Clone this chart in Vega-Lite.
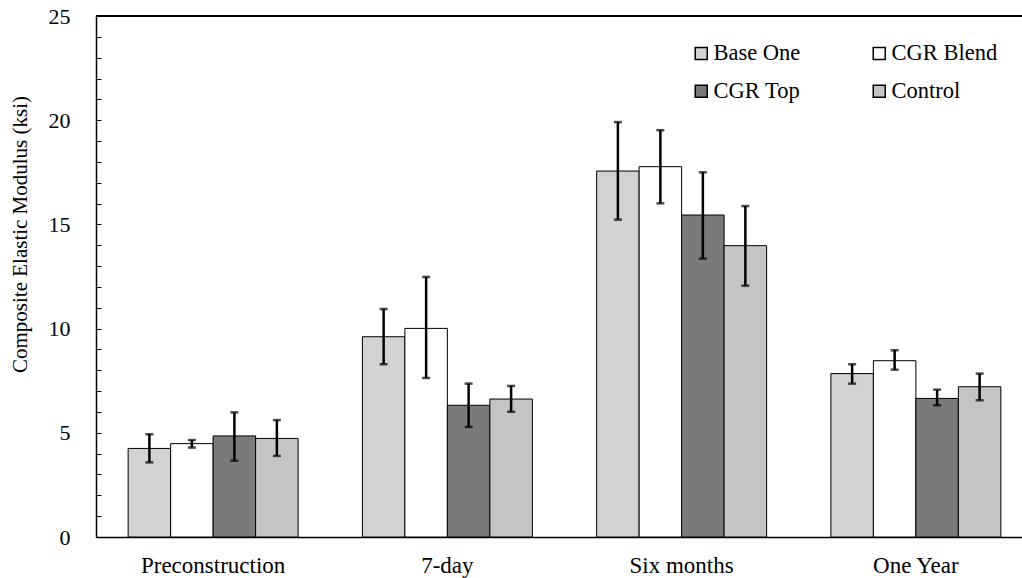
{
  "$schema": "https://vega.github.io/schema/vega-lite/v6.json",
  "width": 926,
  "height": 521,
  "autosize": "none",
  "padding": {"left": 96, "top": 16, "right": 0, "bottom": 41},
  "background": "white",
  "config": {"view": {"stroke": null}, "font": "Liberation Serif", "axis": {"labelOverlap": false, "labelFlush": false}},
  "data": {
    "values": [
      {"period": "Preconstruction", "mix": "Base One", "mean": 4.25, "lo": 3.58, "hi": 4.93},
      {"period": "Preconstruction", "mix": "CGR Blend", "mean": 4.48, "lo": 4.29, "hi": 4.65},
      {"period": "Preconstruction", "mix": "CGR Top", "mean": 4.85, "lo": 3.66, "hi": 5.98},
      {"period": "Preconstruction", "mix": "Control", "mean": 4.73, "lo": 3.89, "hi": 5.61},
      {"period": "7-day", "mix": "Base One", "mean": 9.61, "lo": 8.29, "hi": 10.94},
      {"period": "7-day", "mix": "CGR Blend", "mean": 10.01, "lo": 7.63, "hi": 12.48},
      {"period": "7-day", "mix": "CGR Top", "mean": 6.32, "lo": 5.28, "hi": 7.36},
      {"period": "7-day", "mix": "Control", "mean": 6.62, "lo": 6.01, "hi": 7.25},
      {"period": "Six months", "mix": "Base One", "mean": 17.56, "lo": 15.23, "hi": 19.91},
      {"period": "Six months", "mix": "CGR Blend", "mean": 17.77, "lo": 16.01, "hi": 19.52},
      {"period": "Six months", "mix": "CGR Top", "mean": 15.45, "lo": 13.36, "hi": 17.5},
      {"period": "Six months", "mix": "Control", "mean": 13.98, "lo": 12.06, "hi": 15.88},
      {"period": "One Year", "mix": "Base One", "mean": 7.84, "lo": 7.36, "hi": 8.29},
      {"period": "One Year", "mix": "CGR Blend", "mean": 8.46, "lo": 8.03, "hi": 8.96},
      {"period": "One Year", "mix": "CGR Top", "mean": 6.65, "lo": 6.32, "hi": 7.07},
      {"period": "One Year", "mix": "Control", "mean": 7.21, "lo": 6.56, "hi": 7.84}
    ]
  },
  "layer": [
    {
      "encoding": {
        "x": {
          "field": "period",
          "type": "nominal",
          "sort": ["Preconstruction", "7-day", "Six months", "One Year"],
          "scale": {"range": [0, 937], "paddingInner": 0.2744, "paddingOuter": 0.1372},
          "axis": {
            "title": null,
            "labelAngle": 0,
            "labelFont": "Liberation Serif",
            "labelFontSize": 23,
            "labelColor": "black",
            "labelPadding": 17,
            "ticks": false,
            "domainColor": "black",
            "domainWidth": 1.5
          }
        },
        "xOffset": {
          "field": "mix",
          "type": "nominal",
          "sort": ["Base One", "CGR Blend", "CGR Top", "Control"],
          "scale": {"paddingInner": 0, "paddingOuter": 0}
        }
      },
      "layer": [
        {
          "mark": {"type": "bar", "stroke": "black", "strokeWidth": 1},
          "encoding": {
            "y": {
              "field": "mean",
              "type": "quantitative",
              "scale": {"domain": [0, 25], "nice": false},
              "axis": {
                "title": "Composite Elastic Modulus (ksi)",
                "values": [0,1,2,3,4,5,6,7,8,9,10,11,12,13,14,15,16,17,18,19,20,21,22,23,24,25],
                "labelExpr": "datum.value % 5 === 0 ? datum.label : ''",
                "labelOverlap": false,
                "grid": false,
                "tickSize": -5,
                "tickColor": "black",
                "tickWidth": 1,
                "domainColor": "black",
                "domainWidth": 1.5,
                "labelFont": "Liberation Serif",
                "labelFontSize": 22,
                "labelColor": "black",
                "labelPadding": 31,
                "titleFont": "Liberation Serif",
                "titleFontSize": 21,
                "titleFontWeight": "normal",
                "titleColor": "black",
                "titleX": -76,
                "titleY": 218,
                "titleAngle": 270,
                "titleAlign": "center",
                "titleBaseline": "middle"
              }
            },
            "fill": {
              "field": "mix",
              "type": "nominal",
              "sort": ["Base One", "CGR Blend", "CGR Top", "Control"],
              "scale": {"range": ["#d2d2d2", "#ffffff", "#7a7a7a", "#c4c4c4"]},
              "legend": {
                "orient": "none",
                "legendX": 594,
                "legendY": 26,
                "direction": "horizontal",
                "columns": 2,
                "title": null,
                "padding": 0,
                "symbolType": "square",
                "symbolSize": 144,
                "symbolStrokeColor": "black",
                "symbolStrokeWidth": 1.5,
                "labelFont": "Liberation Serif",
                "labelFontSize": 22.5,
                "labelColor": "black",
                "labelOffset": 1,
                "columnPadding": 67,
                "rowPadding": 15
              }
            }
          }
        },
        {
          "mark": {"type": "rule", "color": "black", "strokeWidth": 2.5},
          "encoding": {
            "y": {
              "field": "lo",
              "type": "quantitative",
              "axis": {
                "title": "Composite Elastic Modulus (ksi)",
                "values": [0,1,2,3,4,5,6,7,8,9,10,11,12,13,14,15,16,17,18,19,20,21,22,23,24,25],
                "labelExpr": "datum.value % 5 === 0 ? datum.label : ''",
                "labelOverlap": false,
                "grid": false,
                "tickSize": -5,
                "tickColor": "black",
                "tickWidth": 1,
                "domainColor": "black",
                "domainWidth": 1.5,
                "labelFont": "Liberation Serif",
                "labelFontSize": 22,
                "labelColor": "black",
                "labelPadding": 31,
                "titleFont": "Liberation Serif",
                "titleFontSize": 21,
                "titleFontWeight": "normal",
                "titleColor": "black",
                "titleX": -76,
                "titleY": 218,
                "titleAngle": 270,
                "titleAlign": "center",
                "titleBaseline": "middle"
              }
            },
            "y2": {"field": "hi"}
          }
        },
        {
          "mark": {"type": "tick", "color": "black", "thickness": 2.5, "size": 8},
          "encoding": {
            "y": {
              "field": "lo",
              "type": "quantitative",
              "axis": {
                "title": "Composite Elastic Modulus (ksi)",
                "values": [0,1,2,3,4,5,6,7,8,9,10,11,12,13,14,15,16,17,18,19,20,21,22,23,24,25],
                "labelExpr": "datum.value % 5 === 0 ? datum.label : ''",
                "labelOverlap": false,
                "grid": false,
                "tickSize": -5,
                "tickColor": "black",
                "tickWidth": 1,
                "domainColor": "black",
                "domainWidth": 1.5,
                "labelFont": "Liberation Serif",
                "labelFontSize": 22,
                "labelColor": "black",
                "labelPadding": 31,
                "titleFont": "Liberation Serif",
                "titleFontSize": 21,
                "titleFontWeight": "normal",
                "titleColor": "black",
                "titleX": -76,
                "titleY": 218,
                "titleAngle": 270,
                "titleAlign": "center",
                "titleBaseline": "middle"
              }
            }
          }
        },
        {
          "mark": {"type": "tick", "color": "black", "thickness": 2.5, "size": 8},
          "encoding": {
            "y": {
              "field": "hi",
              "type": "quantitative",
              "axis": {
                "title": "Composite Elastic Modulus (ksi)",
                "values": [0,1,2,3,4,5,6,7,8,9,10,11,12,13,14,15,16,17,18,19,20,21,22,23,24,25],
                "labelExpr": "datum.value % 5 === 0 ? datum.label : ''",
                "labelOverlap": false,
                "grid": false,
                "tickSize": -5,
                "tickColor": "black",
                "tickWidth": 1,
                "domainColor": "black",
                "domainWidth": 1.5,
                "labelFont": "Liberation Serif",
                "labelFontSize": 22,
                "labelColor": "black",
                "labelPadding": 31,
                "titleFont": "Liberation Serif",
                "titleFontSize": 21,
                "titleFontWeight": "normal",
                "titleColor": "black",
                "titleX": -76,
                "titleY": 218,
                "titleAngle": 270,
                "titleAlign": "center",
                "titleBaseline": "middle"
              }
            }
          }
        }
      ]
    },
    {
      "mark": {"type": "rule", "color": "black", "strokeWidth": 1.5},
      "encoding": {
        "y": {
          "datum": 25,
          "type": "quantitative",
          "axis": {
            "title": "Composite Elastic Modulus (ksi)",
            "values": [0,1,2,3,4,5,6,7,8,9,10,11,12,13,14,15,16,17,18,19,20,21,22,23,24,25],
            "labelExpr": "datum.value % 5 === 0 ? datum.label : ''",
            "labelOverlap": false,
            "grid": false,
            "tickSize": -5,
            "tickColor": "black",
            "tickWidth": 1,
            "domainColor": "black",
            "domainWidth": 1.5,
            "labelFont": "Liberation Serif",
            "labelFontSize": 22,
            "labelColor": "black",
            "labelPadding": 31,
            "titleFont": "Liberation Serif",
            "titleFontSize": 21,
            "titleFontWeight": "normal",
            "titleColor": "black",
            "titleX": -76,
            "titleY": 218,
            "titleAngle": 270,
            "titleAlign": "center",
            "titleBaseline": "middle"
          }
        }
      }
    }
  ]
}
